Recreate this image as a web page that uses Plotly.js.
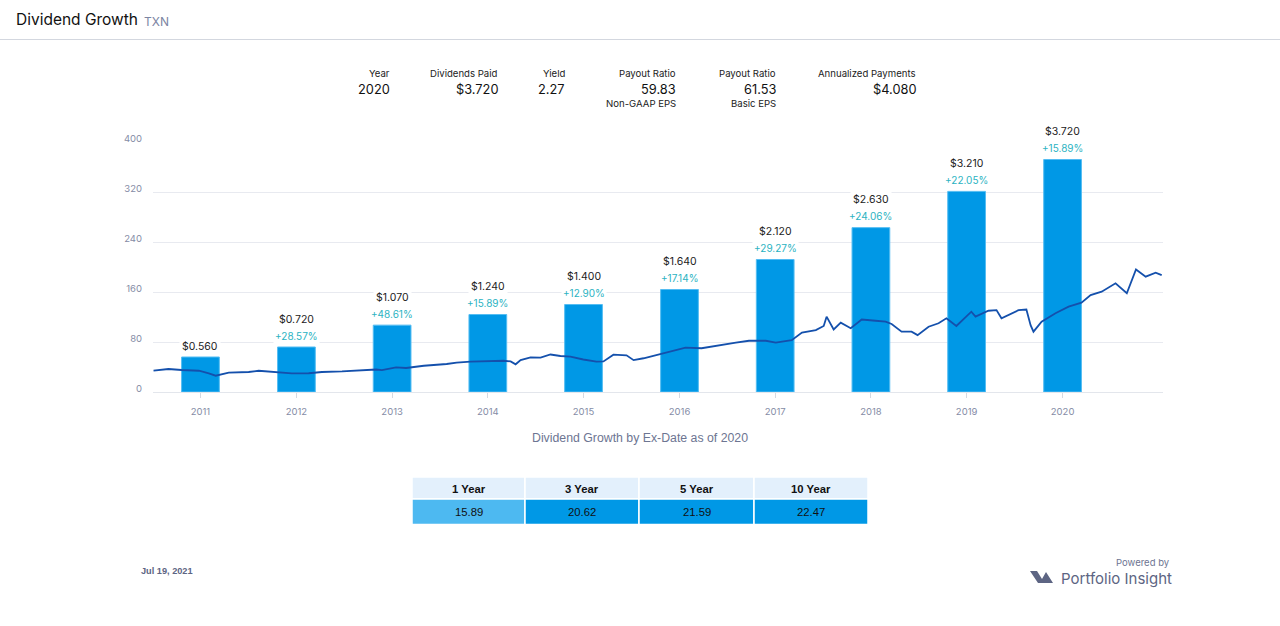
<!DOCTYPE html>
<html>
<head>
<meta charset="utf-8">
<script src="https://cdn.plot.ly/plotly-3.0.1.min.js"></script>
<style>
  html, body { margin: 0; padding: 0; background: #fff; }
  #chart { width: 1280px; height: 626px; }
</style>
</head>
<body>
<div id="chart"></div>
<script>
// ---------- DATA ----------
const years = [2011, 2012, 2013, 2014, 2015, 2016, 2017, 2018, 2019, 2020];
const dividends = [0.56, 0.72, 1.07, 1.24, 1.40, 1.64, 2.12, 2.63, 3.21, 3.72];
const growthPct = [null, 28.57, 48.61, 15.89, 12.90, 17.14, 29.27, 24.06, 22.05, 15.89];

const priceDates = [
  "2011-01-03","2011-03-01","2011-04-20","2011-06-25","2011-08-02","2011-08-28","2011-10-17",
  "2012-01-01","2012-02-08","2012-04-13","2012-06-13","2012-08-17","2012-10-06","2012-12-22",
  "2013-03-08","2013-05-01","2013-05-23","2013-07-16","2013-08-23","2013-10-30",
  "2014-01-25","2014-03-04","2014-04-26","2014-06-27","2014-08-30","2014-09-26","2014-10-15","2014-11-03","2014-12-11",
  "2015-01-18","2015-02-25","2015-04-04","2015-05-12","2015-06-30","2015-08-19","2015-09-15","2015-10-23","2015-12-12",
  "2016-01-08","2016-02-15","2016-04-20","2016-07-24","2016-09-23","2016-11-27",
  "2017-02-01","2017-03-23","2017-05-26","2017-07-03","2017-08-11","2017-09-02","2017-10-11","2017-12-03",
  "2018-01-02","2018-01-13","2018-02-09","2018-03-08","2018-04-15","2018-05-27","2018-07-19","2018-08-26","2018-09-18","2018-10-26","2018-12-03","2018-12-26",
  "2019-02-06","2019-03-16","2019-04-15","2019-05-23","2019-07-19","2019-08-04","2019-09-22","2019-10-23","2019-11-11",
  "2020-01-15","2020-02-14","2020-03-01","2020-03-12","2020-04-12","2020-06-04","2020-07-24","2020-09-11","2020-10-16","2020-11-27",
  "2021-01-19","2021-03-03","2021-04-07","2021-05-14","2021-06-21","2021-07-14"
];
const priceValues = [
  34.1, 36.8, 35.2, 34, 29.9, 26.1, 30.9,
  32, 34, 32.5, 29.9, 30, 32, 33,
  35, 36, 35, 39.5, 38.4, 42,
  44.8, 47, 48.5, 49, 50, 49, 44.3, 51, 55.5,
  55, 60, 57.6, 56.5, 52, 48.5, 49, 59.7, 58.7,
  51, 54, 60.8, 71, 70, 75,
  79, 82, 82, 79, 82, 83, 95, 99,
  105.6, 120.5, 100, 111, 102, 116, 114, 112.5, 108.8, 96.5, 96.5, 91,
  104.5, 110, 118, 105.6, 128.5, 120.5, 130, 131, 118,
  131, 132, 107, 96.5, 112.5, 126, 136.5, 143, 155, 160.5,
  174, 158, 196, 184.5, 191, 187
];
const yTicks = [0, 80, 160, 240, 320, 400];

const statLabels = ["Year", "Dividends Paid", "Yield", "Payout Ratio", "Payout Ratio", "Annualized Payments"];
const statValues = ["2020", "$3.720", "2.27", "59.83", "61.53", "$4.080"];
const statSubs = ["", "", "", "Non-GAAP EPS", "Basic EPS", ""];

const periodLabels = ["1 Year", "3 Year", "5 Year", "10 Year"];
const periodGrowth = [15.89, 20.62, 21.59, 22.47];

const ticker = "TXN";
const asOfDate = "Jul 19, 2021";

// ---------- LAYOUT HELPERS ----------
const W = 1280, H = 626;
const px = x => x / W;
const py = y => 1 - y / H;
const FONT = "Inter, 'Noto Sans', sans-serif";
const HELV = "'Liberation Sans', Arial, sans-serif";

const barDates = years.map(y => y + "-07-01");
const barHeights = dividends.map(d => d * 100);
const yearMs = 365.25 * 24 * 3600 * 1000;

const traces = [
  {
    type: "bar",
    x: barDates,
    y: barHeights,
    width: 0.394 * yearMs,
    marker: { color: "#0098e6", line: { color: "#55bdf2", width: 1 } },
    hoverinfo: "skip",
    showlegend: false
  },
  {
    type: "scatter",
    mode: "lines",
    x: priceDates,
    y: priceValues,
    line: { color: "#1450ac", width: 1.8 },
    hoverinfo: "skip",
    showlegend: false
  }
];

const annotations = [];
const shapes = [];

// Header
annotations.push({ xref: "paper", yref: "paper", x: px(14), y: py(19), xanchor: "left", yanchor: "middle",
  text: "Dividend Growth", showarrow: false, font: { family: FONT, size: 15.5, color: "#111" } });
annotations.push({ xref: "paper", yref: "paper", x: px(142), y: py(21), xanchor: "left", yanchor: "middle",
  text: ticker, showarrow: false, font: { family: FONT, size: 12, color: "#7c85a3" } });

// Stats row
const statRight = [392, 500, 567, 678, 778, 918];
statLabels.forEach((lab, i) => {
  annotations.push({ xref: "paper", yref: "paper", x: px(statRight[i]), y: py(73), xanchor: "right", yanchor: "middle",
    text: lab, showarrow: false, font: { family: FONT, size: 9.6, color: "#222" } });
  annotations.push({ xref: "paper", yref: "paper", x: px(statRight[i]), y: py(89), xanchor: "right", yanchor: "middle",
    text: statValues[i], showarrow: false, font: { family: FONT, size: 12.8, color: "#111" } });
  if (statSubs[i]) {
    annotations.push({ xref: "paper", yref: "paper", x: px(statRight[i]), y: py(104), xanchor: "right", yanchor: "middle",
      text: statSubs[i], showarrow: false, font: { family: FONT, size: 9.6, color: "#222" } });
  }
});

// Bar labels
years.forEach((yr, i) => {
  const hasPct = growthPct[i] !== null;
  annotations.push({ xref: "x", yref: "y", x: barDates[i], y: barHeights[i], yanchor: "middle",
    yshift: hasPct ? 28 : 11,
    text: "$" + dividends[i].toFixed(3), showarrow: false, bgcolor: "#ffffff", borderpad: 2,
    font: { family: FONT, size: 10.5, color: "#222" } });
  if (hasPct) {
    annotations.push({ xref: "x", yref: "y", x: barDates[i], y: barHeights[i], yanchor: "middle",
      yshift: 11.5,
      text: "+" + growthPct[i].toFixed(2) + "%", showarrow: false, bgcolor: "#ffffff", borderpad: 1,
      font: { family: FONT, size: 10, color: "#2bb3c2" } });
  }
});

// Subtitle
annotations.push({ xref: "paper", yref: "paper", x: px(640), y: py(438), xanchor: "center", yanchor: "middle",
  text: "Dividend Growth by Ex-Date as of 2020", showarrow: false, font: { family: HELV, size: 12.3, color: "#6d7592" } });

// Growth table (shapes + text)
const colEdges = [412, 525, 639, 754, 868];
periodLabels.forEach((lab, i) => {
  const x0 = colEdges[i], x1 = colEdges[i + 1];
  shapes.push({ type: "rect", xref: "paper", yref: "paper", x0: px(x0), x1: px(x1), y0: py(499), y1: py(477),
    fillcolor: "#e3f0fc", line: { color: "#ffffff", width: 1.5 }, layer: "above" });
  shapes.push({ type: "rect", xref: "paper", yref: "paper", x0: px(x0), x1: px(x1), y0: py(524.5), y1: py(499),
    fillcolor: i === 0 ? "#4db9f1" : "#0098e6", line: { color: "#ffffff", width: 1.5 }, layer: "above" });
  annotations.push({ xref: "paper", yref: "paper", x: px((x0 + x1) / 2), y: py(488.5), xanchor: "center", yanchor: "middle",
    text: "<b>" + lab + "</b>", showarrow: false, font: { family: HELV, size: 11.3, color: "#111" } });
  annotations.push({ xref: "paper", yref: "paper", x: px((x0 + x1) / 2), y: py(512), xanchor: "center", yanchor: "middle",
    text: periodGrowth[i].toFixed(2), showarrow: false, font: { family: HELV, size: 11.3, color: "#111" } });
});

// Footer
annotations.push({ xref: "paper", yref: "paper", x: px(139), y: py(571), xanchor: "left", yanchor: "middle",
  text: "<b>" + asOfDate + "</b>", showarrow: false, font: { family: HELV, size: 9.2, color: "#5d6583" } });
annotations.push({ xref: "paper", yref: "paper", x: px(1172), y: py(562), xanchor: "right", yanchor: "middle",
  text: "Powered by", showarrow: false, font: { family: FONT, size: 9.5, color: "#6d7592" } });
annotations.push({ xref: "paper", yref: "paper", x: px(1174), y: py(578), xanchor: "right", yanchor: "middle",
  text: "Portfolio Insight", showarrow: false, font: { family: FONT, size: 15, color: "#5d6583" } });

// Logo path
const logoPts = [[1030, 571], [1037, 571], [1042, 579], [1046, 572], [1053, 583], [1038, 583]];
const logoPath = "M" + logoPts.map(p => px(p[0]) + "," + py(p[1])).join(" L") + " Z";

shapes.push({ type: "line", xref: "paper", yref: "paper", x0: 0, x1: 1, y0: py(39.5), y1: py(39.5),
  line: { color: "#d3d7df", width: 1 } });
shapes.push({ type: "path", xref: "paper", yref: "paper", path: logoPath, fillcolor: "#5d6583", line: { width: 0 } });

const layout = {
  width: W, height: H,
  margin: { l: 0, r: 0, t: 0, b: 0 },
  paper_bgcolor: "#ffffff",
  plot_bgcolor: "#ffffff",
  showlegend: false,
  bargap: 0,
  xaxis: {
    type: "date",
    domain: [px(153), px(1163)],
    range: ["2011-01-01", "2021-07-19"],
    tickvals: barDates,
    ticktext: years.map(String),
    ticks: "outside", ticklen: 5, tickcolor: "#d5d9e1", tickwidth: 1,
    showgrid: false, zeroline: false,
    showline: true, linecolor: "#e3e6ec", linewidth: 1,
    tickfont: { family: FONT, size: 9.5, color: "#858ca6" },
    ticklabelstandoff: 6,
    fixedrange: true
  },
  yaxis: {
    domain: [py(392), py(142)],
    range: [0, 400],
    tickvals: yTicks,
    ticktext: yTicks.map(String),
    showgrid: true, gridcolor: "#e8eaf0", gridwidth: 1,
    zeroline: false, showline: false,
    ticks: "",
    tickfont: { family: FONT, size: 9.5, color: "#858ca6" },
    ticklabelstandoff: 10,
    ticklabelshift: -3,
    fixedrange: true
  },
  annotations: annotations,
  shapes: shapes
};

Plotly.newPlot("chart", traces, layout, { displayModeBar: false, staticPlot: true });
</script>
</body>
</html>
